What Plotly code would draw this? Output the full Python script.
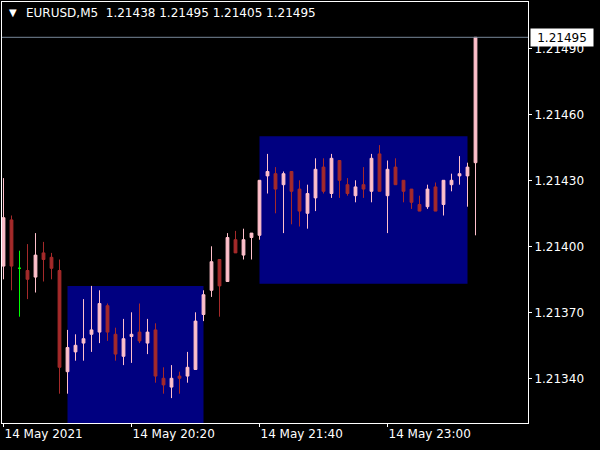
import plotly.graph_objects as go

# ---- data (EURUSD M5, 14 May 2021, 19:00 .. 23:55) ----
bar_index = list(range(60))
opens = [1.21391, 1.21412, 1.21390, 1.21389, 1.21386, 1.21397, 1.21395, 1.21389, 1.21343, 1.21352,
         1.21356, 1.21360, 1.21361, 1.21373, 1.21360, 1.21350, 1.21359, 1.21361, 1.21356, 1.21362,
         1.21340, 1.21336, 1.21341, 1.21341, 1.21344, 1.21369, 1.21380, 1.21394, 1.21384, 1.21403,
         1.21396, 1.21404, 1.21405, 1.21432, 1.21433, 1.21428, 1.21434, 1.21426, 1.21415, 1.21422,
         1.21436, 1.21424, 1.21439, 1.21428, 1.21423, 1.21428, 1.21425, 1.21442, 1.21423, 1.21436,
         1.21430, 1.21426, 1.21419, 1.21418, 1.21427, 1.21419, 1.21428, 1.21432, 1.21432, 1.21438]
highs = [1.21431, 1.21414, 1.21398, 1.21401, 1.21406, 1.21402, 1.21397, 1.21394, 1.21362, 1.21360,
         1.21376, 1.21382, 1.21380, 1.21374, 1.21363, 1.21367, 1.21370, 1.21374, 1.21367, 1.21365,
         1.21345, 1.21346, 1.21343, 1.21352, 1.21370, 1.21380, 1.21400, 1.21394, 1.21406, 1.21407,
         1.21408, 1.21406, 1.21430, 1.21442, 1.21436, 1.21434, 1.21434, 1.21430, 1.21428, 1.21440,
         1.21440, 1.21442, 1.21439, 1.21431, 1.21430, 1.21436, 1.21442, 1.21446, 1.21439, 1.21440,
         1.21430, 1.21426, 1.21423, 1.21428, 1.21429, 1.21430, 1.21433, 1.21441, 1.21438, 1.21495]
lows = [1.21385, 1.21380, 1.21368, 1.21376, 1.21379, 1.21384, 1.21385, 1.21333, 1.21333, 1.21348,
        1.21348, 1.21352, 1.21356, 1.21357, 1.21348, 1.21346, 1.21347, 1.21356, 1.21351, 1.21338,
        1.21333, 1.21331, 1.21333, 1.21338, 1.21344, 1.21366, 1.21377, 1.21368, 1.21384, 1.21397,
        1.21394, 1.21394, 1.21403, 1.21424, 1.21415, 1.21406, 1.21410, 1.21409, 1.21408, 1.21416,
        1.21424, 1.21422, 1.21422, 1.21423, 1.21420, 1.21422, 1.21420, 1.21425, 1.21406, 1.21428,
        1.21420, 1.21417, 1.21416, 1.21417, 1.21416, 1.21414, 1.21425, 1.21428, 1.21418, 1.21405]
closes = [1.21413, 1.21391, 1.21390, 1.21385, 1.21396, 1.21394, 1.21390, 1.21345, 1.21354, 1.21355,
          1.21358, 1.21362, 1.21374, 1.21361, 1.21351, 1.21358, 1.21360, 1.21357, 1.21361, 1.21341,
          1.21337, 1.21340, 1.21340, 1.21345, 1.21366, 1.21378, 1.21393, 1.21382, 1.21404, 1.21397,
          1.21403, 1.21406, 1.21430, 1.21434, 1.21426, 1.21433, 1.21425, 1.21416, 1.21424, 1.21435,
          1.21425, 1.21440, 1.21430, 1.21424, 1.21427, 1.21426, 1.21440, 1.21425, 1.21435, 1.21428,
          1.21425, 1.21420, 1.21416, 1.21426, 1.21416, 1.21430, 1.21430, 1.21433, 1.21436, 1.21495]

time_tick_index = [0, 16, 32, 48]
time_tick_text = ["14 May 2021", "14 May 20:20", "14 May 21:40", "14 May 23:00"]
price_ticks = [1.21340, 1.21370, 1.21400, 1.21430, 1.21460, 1.21490]

# supply / demand zones: start bar, end bar, bottom price, top price
zone_start = [8, 32]
zone_end = [25, 58]
zone_bottom = [1.21300, 1.21383]
zone_top = [1.21382, 1.21450]

symbol = "EURUSD,M5"
last_price = 1.21495

# ---- styling ----
BULL = "#FFC0CB"
BEAR = "#A52A2A"
DOJI = "#00FF00"
ZONE = "#000080"
FONT = "DejaVu Sans"

W, H = 600, 450
ML, MR, MT, MB = 2, 72, 2, 27
plot_w = W - ML - MR
plot_h = H - MT - MB


def px_x(px):
    return (px - ML) / plot_w


def px_y(py):
    return 1 - (py - MT) / plot_h


fig = go.Figure()

norm = [i for i in bar_index if opens[i] != closes[i]]
doji = [i for i in bar_index if opens[i] == closes[i]]

fig.add_trace(go.Candlestick(
    x=[bar_index[i] for i in norm],
    open=[opens[i] for i in norm], high=[highs[i] for i in norm],
    low=[lows[i] for i in norm], close=[closes[i] for i in norm],
    increasing=dict(fillcolor=BULL, line=dict(color=BULL, width=1)),
    decreasing=dict(fillcolor=BEAR, line=dict(color=BEAR, width=1)),
    whiskerwidth=0, showlegend=False, hoverinfo="skip",
))
fig.add_trace(go.Candlestick(
    x=[bar_index[i] for i in doji],
    open=[opens[i] for i in doji], high=[highs[i] for i in doji],
    low=[lows[i] for i in doji], close=[closes[i] for i in doji],
    increasing=dict(fillcolor=DOJI, line=dict(color=DOJI, width=1)),
    decreasing=dict(fillcolor=DOJI, line=dict(color=DOJI, width=1)),
    whiskerwidth=0, showlegend=False, hoverinfo="skip",
))

for s, e, b, t in zip(zone_start, zone_end, zone_bottom, zone_top):
    fig.add_shape(type="rect", xref="x", yref="y", x0=s, x1=e, y0=b, y1=t,
                  fillcolor=ZONE, line=dict(width=0), layer="below")

# bid line
fig.add_shape(type="line", xref="paper", yref="y", x0=0, x1=1, y0=last_price, y1=last_price,
              line=dict(color="#778899", width=1))

# price label box
fig.add_annotation(xref="paper", yref="y", x=1, y=last_price, xanchor="left", yanchor="middle",
                   xshift=2, text=f"{last_price:.5f}", showarrow=False,
                   font=dict(family=FONT, size=12, color="black"),
                   bgcolor="white", width=58, height=13, borderpad=2)

# header
fig.add_annotation(xref="paper", yref="paper", x=px_x(7), y=px_y(13), xanchor="left", yanchor="middle",
                   text="▼", showarrow=False, font=dict(family=FONT, size=10, color="white"))
header = f"{symbol}  {opens[-1]:.5f} {highs[-1]:.5f} {lows[-1]:.5f} {closes[-1]:.5f}"
fig.add_annotation(xref="paper", yref="paper", x=px_x(24), y=px_y(13), xanchor="left", yanchor="middle",
                   text=header, showarrow=False, font=dict(family=FONT, size=12, color="white"))

x0 = -1.5 / 8
fig.update_layout(
    width=W, height=H,
    margin=dict(l=ML, r=MR, t=MT, b=MB, pad=0),
    paper_bgcolor="black", plot_bgcolor="black",
    font=dict(family=FONT, size=12, color="white"),
    boxgap=0.5,
    showlegend=False,
    xaxis=dict(
        range=[x0, x0 + plot_w / 8], rangeslider=dict(visible=False),
        showgrid=False, zeroline=False,
        showline=True, mirror=True, linecolor="white", linewidth=1,
        ticks="outside", ticklen=3, tickcolor="white",
        tickvals=time_tick_index, ticktext=time_tick_text,
        ticklabelposition="outside right",
        tickfont=dict(family=FONT, size=12, color="white"),
    ),
    yaxis=dict(
        range=[1.214 - 176.7 / 220000, 1.214 + 244.3 / 220000],
        side="right", showgrid=False, zeroline=False,
        showline=True, mirror=True, linecolor="white", linewidth=1,
        ticks="outside", ticklen=3, tickcolor="white",
        tickvals=price_ticks, tickformat=".5f",
        tickfont=dict(family=FONT, size=12, color="white"),
    ),
)

fig.write_html("out.html",
               config={"displayModeBar": False, "staticPlot": True},
               post_script="document.body.style.margin='0';document.body.style.background='black';")
